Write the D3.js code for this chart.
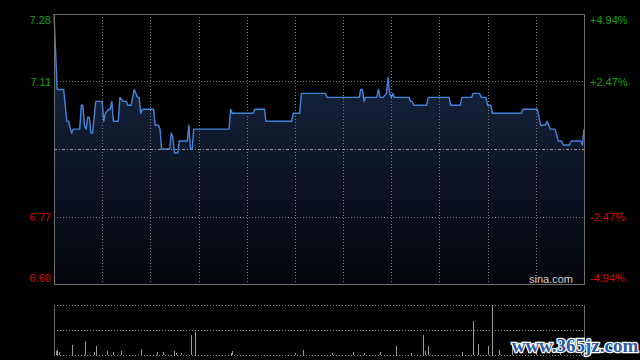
<!DOCTYPE html>
<html>
<head>
<meta charset="utf-8">
<script src="https://cdn.jsdelivr.net/npm/d3@7/dist/d3.min.js"></script>
<style>
  body { margin: 0; background: #000; }
  svg { display: block; }
</style>
</head>
<body>
<script>
// 分时数据：分钟序号（0-330）与价格
var minutes = [0, 2, 6, 8, 9, 11, 12, 16, 17, 18, 19, 20, 21, 22, 23, 24, 26, 30, 31, 32, 34, 35, 36, 37, 40,
  41, 43, 45, 46, 48, 50, 51, 52, 53, 54, 55, 62, 63, 65, 66, 67, 72, 73, 74, 75, 77, 78, 83, 84, 85, 86, 87,
  109, 110, 111, 124, 125, 131, 132, 148, 149, 153, 154, 169, 170, 190, 191, 192, 193, 194, 201, 202, 203, 205,
  207, 208, 209, 210, 211, 212, 221, 222, 223, 224, 232, 233, 246, 247, 253, 254, 260, 261, 265, 266, 269, 270,
  272, 273, 291, 292, 301, 303, 306, 307, 309, 312, 314, 316, 317, 321, 322, 328, 329, 330];
var prices = [7.28, 7.09, 7.09, 7.01, 7.01, 6.98, 6.99, 6.99, 7.05, 7.05, 7.00, 6.99, 7.02, 7.02, 6.98, 6.98, 7.06, 7.06, 7.01, 7.03, 7.04, 7.04, 7.06, 7.01, 7.01,
  7.07, 7.06, 7.06, 7.05, 7.05, 7.09, 7.08, 7.07, 7.07, 7.03, 7.04, 7.04, 7.00, 7.00, 6.99, 6.94, 6.94, 6.98, 6.97, 6.93, 6.93, 6.96, 6.96, 7.00, 6.94, 6.94, 6.99,
  6.99, 7.04, 7.03, 7.03, 7.04, 7.04, 7.01, 7.01, 7.03, 7.03, 7.08, 7.08, 7.07, 7.07, 7.09, 7.09, 7.06, 7.07, 7.07, 7.09, 7.07, 7.07,
  7.08, 7.12, 7.08, 7.07, 7.08, 7.07, 7.07, 7.06, 7.06, 7.05, 7.05, 7.07, 7.07, 7.05, 7.05, 7.07, 7.07, 7.08, 7.08, 7.07, 7.07, 7.05,
  7.05, 7.03, 7.03, 7.04, 7.04, 7.00, 7.00, 7.01, 6.99, 6.99, 6.96, 6.96, 6.95, 6.95, 6.96, 6.96, 6.95, 6.99];

// 成交量（只列出可见的柱子）
var volMinutes = [1, 2, 3, 11, 19, 25, 26, 33, 37, 42, 54, 64, 68, 75, 76, 79, 85, 88, 110, 111, 150, 155, 173, 186,
  193, 203, 213, 222, 230, 231, 233, 254, 261, 264, 270, 273, 277, 285, 300, 315, 328];
var volumes = [8, 10, 6, 20, 28, 6, 18, 8, 6, 8, 12, 6, 6, 8, 4, 4, 40, 46, 4, 8, 4, 10, 4, 6,
  4, 6, 18, 4, 40, 8, 18, 6, 68, 22, 18, 100, 10, 20, 6, 8, 12];

var preClose = 6.94;
var priceTicks = [7.28, 7.11, 6.94, 6.77, 6.60];
var leftLabels = ["7.28", "7.11", "", "6.77", "6.60"];
var rightLabels = ["+4.94%", "+2.47%", "", "-2.47%", "-4.94%"];

var width = 640;
var height = 360;
var plotLeft = 54, plotRight = 584, plotTop = 14, plotBottom = 284;
var volTop = 305, volBottom = 355;

var svg = d3.select("body")
  .append("svg")
  .attr("width", width)
  .attr("height", height)
  .style("background", "#000");

var x = d3.scaleLinear().domain([0, 330]).range([plotLeft, plotRight]);
var y = d3.scaleLinear().domain([6.60, 7.28]).range([plotBottom, plotTop]);
var vy = d3.scaleLinear().domain([0, 100]).range([volBottom, volTop]);

// 面积渐变
var grad = svg.append("defs").append("linearGradient")
  .attr("id", "areaFill")
  .attr("gradientUnits", "userSpaceOnUse")
  .attr("x1", 0).attr("y1", plotTop)
  .attr("x2", 0).attr("y2", plotBottom);
grad.append("stop").attr("offset", "0%").attr("stop-color", "#1b2c4c");
grad.append("stop").attr("offset", "100%").attr("stop-color", "#03050a");

var points = minutes.map(function (m, i) { return [m, prices[i]]; });

svg.append("path")
  .datum(points)
  .attr("fill", "url(#areaFill)")
  .attr("d", d3.area()
    .x(function (d) { return x(d[0]); })
    .y0(plotBottom)
    .y1(function (d) { return y(d[1]); }));

// 网格
var gridColor = "#7a7a7a";
svg.selectAll(".vgrid")
  .data(d3.range(30, 330, 30))
  .enter()
  .append("line")
  .attr("x1", function (d) { return Math.round(x(d)) + 0.5; })
  .attr("x2", function (d) { return Math.round(x(d)) + 0.5; })
  .attr("y1", plotTop)
  .attr("y2", plotBottom)
  .attr("stroke", gridColor)
  .attr("stroke-dasharray", "1,2");

svg.selectAll(".hgrid")
  .data(priceTicks.slice(1, 4))
  .enter()
  .append("line")
  .attr("x1", plotLeft)
  .attr("x2", plotRight)
  .attr("y1", function (d) { return Math.round(y(d)) + 0.5; })
  .attr("y2", function (d) { return Math.round(y(d)) + 0.5; })
  .attr("stroke", function (d) { return d === preClose ? "#9a9a9a" : gridColor; })
  .attr("stroke-dasharray", function (d) { return d === preClose ? "3,2,1,2" : "1,2"; });

// 价格线
svg.append("path")
  .datum(points)
  .attr("fill", "none")
  .attr("stroke", "#4684dc")
  .attr("stroke-width", 1.4)
  .attr("stroke-linejoin", "round")
  .attr("d", d3.line()
    .x(function (d) { return x(d[0]); })
    .y(function (d) { return y(d[1]); }));

// 边框
svg.append("rect")
  .attr("x", plotLeft + 0.5)
  .attr("y", plotTop + 0.5)
  .attr("width", plotRight - plotLeft)
  .attr("height", plotBottom - plotTop)
  .attr("fill", "none")
  .attr("stroke", "#6e6e6e");

// 左右刻度文字
function labelY(d, i) {
  var yy = y(d);
  if (i === 0) yy += 6;
  if (i === priceTicks.length - 1) yy -= 6;
  return yy + 4;
}

svg.selectAll(".lt")
  .data(priceTicks)
  .enter()
  .append("text")
  .attr("x", plotLeft - 3)
  .attr("y", labelY)
  .attr("text-anchor", "end")
  .attr("font-family", "Liberation Sans, Arial, sans-serif")
  .attr("font-size", "11px")
  .attr("fill", function (d) { return d > preClose ? "#17a017" : "#d40a0a"; })
  .text(function (d, i) { return leftLabels[i]; });

svg.selectAll(".rt")
  .data(priceTicks)
  .enter()
  .append("text")
  .attr("x", plotRight + 6)
  .attr("y", labelY)
  .attr("font-family", "Liberation Sans, Arial, sans-serif")
  .attr("font-size", "11px")
  .attr("fill", function (d) { return d > preClose ? "#17a017" : "#d40a0a"; })
  .text(function (d, i) { return rightLabels[i]; });

svg.append("text")
  .attr("x", 573)
  .attr("y", 283)
  .attr("text-anchor", "end")
  .attr("font-family", "Liberation Sans, Arial, sans-serif")
  .attr("font-size", "11px")
  .attr("fill", "#cfcfcf")
  .text("sina.com");

// 成交量区域
[volTop, (volTop + volBottom) / 2, volBottom].forEach(function (v) {
  svg.append("line")
    .attr("x1", plotLeft)
    .attr("x2", plotRight)
    .attr("y1", Math.round(v) + 0.5)
    .attr("y2", Math.round(v) + 0.5)
    .attr("stroke", "#8a8a8a")
    .attr("stroke-dasharray", "1,2");
});
[plotLeft, plotRight].forEach(function (xx) {
  svg.append("line")
    .attr("x1", xx + 0.5)
    .attr("x2", xx + 0.5)
    .attr("y1", volTop)
    .attr("y2", volBottom)
    .attr("stroke", "#6e6e6e");
});

svg.selectAll(".vol")
  .data(volMinutes)
  .enter()
  .append("line")
  .attr("x1", function (d) { return Math.round(x(d)) + 0.5; })
  .attr("x2", function (d) { return Math.round(x(d)) + 0.5; })
  .attr("y1", volBottom)
  .attr("y2", function (d, i) { return vy(volumes[i]); })
  .attr("stroke", "#9a9a9a");

// 水印
svg.append("text")
  .attr("x", 575)
  .attr("y", 352)
  .attr("text-anchor", "middle")
  .attr("font-family", "Liberation Serif, Times New Roman, serif")
  .attr("font-weight", "bold")
  .attr("font-size", "19px")
  .attr("fill", "#2c5ba6")
  .attr("stroke", "#ffffff")
  .attr("stroke-width", 2.5)
  .attr("paint-order", "stroke")
  .text("www.365jz.com");
</script>
</body>
</html>
